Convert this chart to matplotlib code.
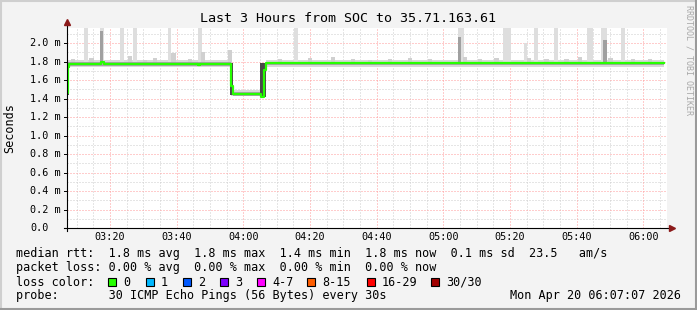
import numpy as np
import matplotlib
matplotlib.use('Agg')
import matplotlib.pyplot as plt
from matplotlib.lines import Line2D
from matplotlib.patches import Rectangle
from matplotlib.transforms import blended_transform_factory

# time in minutes after 03:00, values in ms
t_start = 7.12
t_end = 187.12

# median rtt (step points)
median_t = [7.12, 7.35, 7.6, 17.3, 18.2, 46.3, 46.9, 56.4, 56.8, 65.2, 66.2, 66.8, 186.2]
median_v = [1.46, 1.74, 1.775, 1.795, 1.775, 1.765, 1.775, 1.53, 1.445, 1.42, 1.71, 1.78, 1.78]

# smoke: outer band segments (start, end, low, high)
band_t0 = [7.12, 56.3, 65.2, 66.9]
band_t1 = [56.3, 65.2, 66.9, 186.2]
band_lo = [1.74, 1.425, 1.42, 1.745]
band_hi = [1.815, 1.49, 1.78, 1.815]

# smoke: inner band segments
core_t0 = [7.12, 56.9, 66.9]
core_t1 = [56.3, 65.2, 186.2]
core_lo = [1.755, 1.43, 1.76]
core_hi = [1.795, 1.465, 1.80]

# dark transition columns (start, end, low, high)
trans_t0 = [7.12, 56.0, 65.0]
trans_t1 = [7.6, 57.0, 66.9]
trans_lo = [1.44, 1.44, 1.42]
trans_hi = [1.77, 1.78, 1.78]

# tall light spikes (centre, top, width)
spike_t = [12.8, 17.6, 23.6, 27.5, 37.9, 46.9, 75.8, 125.3, 139.1, 144.7, 147.8, 153.8, 164.0, 168.3, 173.9]
spike_top = [2.3, 2.3, 2.3, 2.3, 2.3, 2.3, 2.3, 2.3, 2.3, 2.0, 2.3, 2.3, 2.3, 2.3, 2.3]
spike_w = [1.2, 1.2, 1.1, 1.2, 1.1, 1.2, 1.3, 1.9, 2.2, 1.0, 1.4, 1.4, 1.6, 1.7, 1.4]

# darker spikes
dark_t = [17.6, 124.8, 168.5]
dark_top = [2.13, 2.07, 2.03]
dark_w = [0.9, 0.8, 1.1]

# small smoke bumps
bump_t = [9.0, 14.5, 26.0, 30.5, 33.5, 39.1, 44.0, 47.9, 56.0, 71.0, 80.0, 87.0, 93.0, 98.0, 104.0,
          110.0, 116.0, 126.5, 131.0, 136.0, 145.7, 151.0, 157.0, 161.0, 170.2, 177.0, 182.0]
bump_top = [1.83, 1.84, 1.86, 1.82, 1.84, 1.89, 1.83, 1.90, 1.92, 1.83, 1.84, 1.85, 1.83, 1.82, 1.83,
            1.84, 1.83, 1.85, 1.83, 1.84, 1.84, 1.83, 1.83, 1.85, 1.84, 1.83, 1.83]

y_ticks = [0.0, 0.2, 0.4, 0.6, 0.8, 1.0, 1.2, 1.4, 1.6, 1.8, 2.0]
y_labels = ['0.0', '0.2 m', '0.4 m', '0.6 m', '0.8 m', '1.0 m', '1.2 m', '1.4 m', '1.6 m', '1.8 m', '2.0 m']
y_minor = [0.1, 0.3, 0.5, 0.7, 0.9, 1.1, 1.3, 1.5, 1.7, 1.9, 2.1]
x_ticks = [20, 40, 60, 80, 100, 120, 140, 160, 180]
x_labels = ['03:20', '03:40', '04:00', '04:20', '04:40', '05:00', '05:20', '05:40', '06:00']
x_minor = [10, 15, 25, 30, 35, 45, 50, 55, 65, 70, 75, 85, 90, 95, 105, 110, 115,
           125, 130, 135, 145, 150, 155, 165, 170, 175, 185]

loss_names = ['0', '1', '2', '3', '4-7', '8-15', '16-29', '30/30']
loss_colors = ['#26ff00', '#00b8ff', '#0059ff', '#7e00ff', '#ff00ff', '#ff5e00', '#ff0000', '#a10000']
loss_box_x = [108, 146, 183, 220, 257, 307, 367, 431]

W, H = 697, 310
mono = 'DejaVu Sans Mono'

fig = plt.figure(figsize=(W / 100, H / 100), dpi=100, facecolor='#f3f3f3')
ax = fig.add_axes([67 / W, 82 / H, 600 / W, 200 / H])
ax.set_facecolor('white')
ax.set_xlim(t_start, t_end)
ax.set_ylim(0, 2.1622)
for s in ax.spines.values():
    s.set_visible(False)
ax.set_xticks([])
ax.set_yticks([])

# grid
for y in y_minor:
    ax.axhline(y, color='#cdcdcd', lw=0.72, ls=(0, (1, 2)), zorder=0)
for x in x_minor:
    ax.axvline(x, color='#cdcdcd', lw=0.72, ls=(0, (1, 2)), zorder=0)
for y in y_ticks[1:]:
    ax.axhline(y, color='#ff9a9a', lw=0.72, ls=(0, (1, 2)), zorder=0)
for x in x_ticks:
    ax.axvline(x, color='#ff9a9a', lw=0.72, ls=(0, (1, 2)), zorder=0)

# smoke
ax.bar(band_t0, np.array(band_hi) - np.array(band_lo), bottom=band_lo,
       width=np.array(band_t1) - np.array(band_t0), align='edge', color='#d8d8d8', lw=0, zorder=2)
ax.bar(spike_t, np.array(spike_top) - 1.78, bottom=1.78, width=spike_w,
       color='#dedede', lw=0, zorder=2)
ax.bar(bump_t, np.array(bump_top) - 1.78, bottom=1.78, width=1.3,
       color='#d0d0d0', lw=0, zorder=2)
ax.bar(core_t0, np.array(core_hi) - np.array(core_lo), bottom=core_lo,
       width=np.array(core_t1) - np.array(core_t0), align='edge', color='#a5a5a5', lw=0, zorder=3)
ax.bar(dark_t, np.array(dark_top) - 1.78, bottom=1.78, width=dark_w,
       color='#a0a0a0', lw=0, zorder=3)
ax.bar(trans_t0, np.array(trans_hi) - np.array(trans_lo), bottom=trans_lo,
       width=np.array(trans_t1) - np.array(trans_t0), align='edge', color='#4a4a4a', lw=0, zorder=3)

# median line
ax.step(median_t, median_v, where='post', color='#26ff00', lw=1.6, zorder=4)

# axes lines with arrows
ax.plot([-0.005, 1.004], [0, 0], transform=ax.transAxes, color='black', lw=0.8, clip_on=False, zorder=5)
ax.plot([0, 0], [-0.015, 1.02], transform=ax.transAxes, color='black', lw=0.8, clip_on=False, zorder=5)
ax.plot([1.008], [0], transform=ax.transAxes, marker='>', ms=4, color='#8b1a1a', clip_on=False, zorder=6)
ax.plot([0], [1.03], transform=ax.transAxes, marker='^', ms=4, color='#8b1a1a', clip_on=False, zorder=6)

# tick labels
ty = blended_transform_factory(fig.transFigure, ax.transData)
for y, lab in zip(y_ticks, y_labels):
    ax.text(30 / W, y, lab, transform=ty, ha='left', va='center', fontsize=7.3, family=mono)
    ax.plot([-3 / 600, 0], [y, y], transform=blended_transform_factory(ax.transAxes, ax.transData),
            color='black', lw=0.7, clip_on=False)
tx = blended_transform_factory(ax.transData, fig.transFigure)
for x, lab in zip(x_ticks, x_labels):
    ax.text(x, 1 - 237.5 / H, lab, transform=tx, ha='center', va='center', fontsize=7.3, family=mono)

# titles
fig.text(347.5 / W, 1 - 18 / H, 'Last 3 Hours from SOC to 35.71.163.61', ha='center', va='center',
         fontsize=9.6, family=mono)
fig.text(10 / W, 1 - 128 / H, 'Seconds', rotation=90, ha='center', va='center', fontsize=8.5, family=mono)
fig.text(689 / W, 1 - 60 / H, 'RRDTOOL / TOBI OETIKER', rotation=270, ha='center', va='center',
         fontsize=6, family=mono, color='#a8a8a8')

# legend
fs = 8.5
fig.text(16 / W, 1 - 254 / H, 'median rtt:  1.8 ms avg  1.8 ms max  1.4 ms min  1.8 ms now  0.1 ms sd  23.5   am/s',
         ha='left', va='center', fontsize=fs, family=mono)
fig.text(16 / W, 1 - 268 / H, 'packet loss: 0.00 % avg  0.00 % max  0.00 % min  0.00 % now',
         ha='left', va='center', fontsize=fs, family=mono)
fig.text(16 / W, 1 - 282 / H, 'loss color:', ha='left', va='center', fontsize=fs, family=mono)
for bx, name, col in zip(loss_box_x, loss_names, loss_colors):
    fig.add_artist(Rectangle((bx / W, 1 - 286 / H), 8 / W, 8 / H, transform=fig.transFigure,
                             facecolor=col, edgecolor='black', lw=0.8))
    fig.text((bx + 15) / W, 1 - 282 / H, name, ha='left', va='center', fontsize=fs, family=mono)
fig.text(16 / W, 1 - 296 / H, 'probe:       30 ICMP Echo Pings (56 Bytes) every 30s',
         ha='left', va='center', fontsize=fs, family=mono)
fig.text(681 / W, 1 - 296 / H, 'Mon Apr 20 06:07:07 2026', ha='right', va='center', fontsize=fs, family=mono)

# frame
fig.add_artist(Line2D([0, 1], [1 - 1 / H, 1 - 1 / H], transform=fig.transFigure, color='#cfcfcf', lw=1.5))
fig.add_artist(Line2D([1 / W, 1 / W], [0, 1], transform=fig.transFigure, color='#cfcfcf', lw=1.5))
fig.add_artist(Line2D([0, 1], [1 / H, 1 / H], transform=fig.transFigure, color='#9a9a9a', lw=1.5))
fig.add_artist(Line2D([1 - 1 / W, 1 - 1 / W], [0, 1], transform=fig.transFigure, color='#9a9a9a', lw=1.5))

fig.savefig('out.png', dpi=100, facecolor=fig.get_facecolor())
